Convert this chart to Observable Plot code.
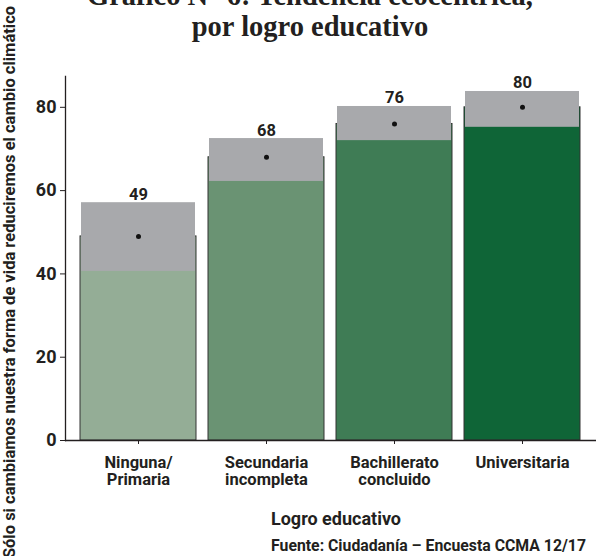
<!DOCTYPE html>
<html>
<head>
<meta charset="utf-8">
<script src="https://cdn.jsdelivr.net/npm/d3@7"></script>
<script src="https://cdn.jsdelivr.net/npm/@observablehq/plot@0.6"></script>
<style>
  body { margin: 0; background: #fff; }
  #wrap { position: relative; width: 596px; height: 556px; overflow: hidden; background: #fff; }
  #title { position: absolute; left: 0; width: 620px; top: -20px; text-align: center;
    font-family: "Liberation Serif", "DejaVu Serif", serif; font-weight: bold; font-size: 28.5px; line-height: 31px; color: #231f20; }
  #ylab { position: absolute; left: 9px; top: 282px; transform: translate(-50%, -50%) rotate(-90deg);
    white-space: nowrap; font-family: "Roboto", sans-serif; font-weight: bold; font-size: 16.5px; color: #231f20; }
  #xlab { position: absolute; left: 236px; width: 200px; top: 510px; text-align: center; line-height: 1;
    font-family: "Roboto", sans-serif; font-weight: bold; font-size: 18px; color: #231f20; }
  #src { position: absolute; right: 10px; top: 538px; white-space: nowrap; line-height: 1;
    font-family: "Roboto", sans-serif; font-weight: bold; font-size: 15.8px; color: #231f20; }
  #chart { position: absolute; left: 0; top: 0; }
</style>
</head>
<body>
<div id="wrap">
  <div id="chart"></div>
  <div id="title">Gráfico N° 6: Tendencia ecocéntrica,<br>por logro educativo</div>
  <div id="ylab">Sólo si cambiamos nuestra forma de vida reduciremos el cambio climático</div>
  <div id="xlab">Logro educativo</div>
  <div id="src">Fuente: Ciudadanía – Encuesta CCMA 12/17</div>
</div>
<script>
const categories = ["Ninguna/\nPrimaria", "Secundaria\nincompleta", "Bachillerato\nconcluido", "Universitaria"];
const values = [49, 68, 76, 80];
const lows = [40.6, 62.2, 72.0, 75.2];
const highs = [57.1, 72.5, 80.2, 83.8];
const colors = ["#94ad96", "#6a9373", "#3f7c55", "#0f6537"];
const yTicks = [0, 20, 40, 60, 80];

const data = categories.map((c, i) => ({c, v: values[i], lo: lows[i], hi: highs[i], col: colors[i]}));

const fontFam = "Roboto, sans-serif";

const chart = Plot.plot({
  width: 596,
  height: 556,
  marginTop: 76,
  marginBottom: 116,
  marginLeft: 65,
  marginRight: 0,
  style: {fontFamily: fontFam, fontWeight: "bold", color: "#231f20", background: "transparent"},
  x: {domain: categories, paddingInner: 0.09, paddingOuter: 0.105, label: null},
  y: {domain: [0, 87.4], label: null},
  color: {type: "identity"},
  marks: [
    Plot.barY(data, {x: "c", y: "v", fill: "col", stroke: "#333", strokeWidth: 1}),
    Plot.barY(data, {x: "c", y1: "lo", y2: "hi", fill: "#a8a9ac", insetLeft: 1, insetRight: 1}),
    Plot.dot(data, {x: "c", y: "v", r: 2.5, fill: "#111", stroke: null}),
    Plot.text(data, {x: "c", y: "hi", text: d => String(d.v), lineAnchor: "bottom", dy: -3, fontSize: 16.5, fontWeight: "bold", fill: "#231f20"}),
    Plot.ruleY([0], {stroke: "#231f20", strokeWidth: 1.3}),
    Plot.frame({anchor: "left", stroke: "#231f20", strokeWidth: 1.3}),
    Plot.axisY({ticks: yTicks, tickSize: 5, tickPadding: 4, fontSize: 18, fontWeight: "bold", label: null, stroke: "#231f20"}),
    Plot.axisX({tickSize: 4, tickPadding: 11, fontSize: 16.5, lineHeight: 1.05, label: null, stroke: "#231f20"})
  ]
});
document.getElementById("chart").appendChild(chart);
</script>
</body>
</html>
